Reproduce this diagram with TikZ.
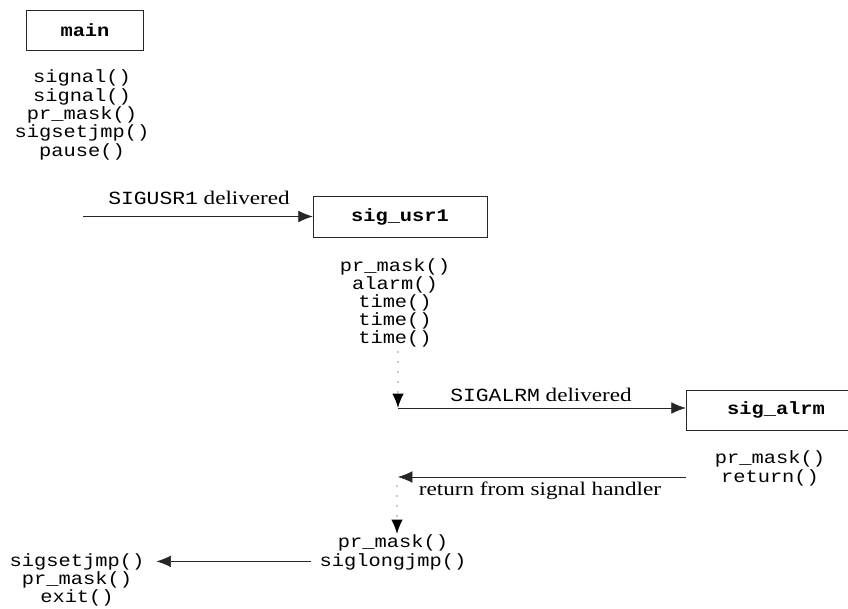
\documentclass[tikz,border=0pt]{standalone}
\usepackage{fontspec}
\setmainfont{Liberation Serif}
\newfontfamily\codefont[FakeStretch=1.15]{Liberation Mono}
\newfontfamily\labelfont[FakeStretch=1.2]{Liberation Serif}
\usetikzlibrary{arrows.meta}

\begin{document}
\begin{tikzpicture}
[x=0.025cm,y=-0.025cm,
  boxDecorate/.style={draw=black!85,thin,inner sep=0pt,
    font=\codefont\bfseries\fontsize{12.6}{13}\selectfont},
  callDecorate/.style={anchor=base,inner sep=0pt,text height=0.3cm,text depth=0.07cm,
    font=\codefont\fontsize{12.6}{13}\selectfont},
  textDecorate/.style={anchor=base,inner sep=0pt,
    font=\labelfont\fontsize{13.7}{15}\selectfont},
  lineDecorate/.style={-{Latex[length=3.6mm,width=2.9mm]},draw=black!85,thin},
  dotDecorate/.style={-{Latex[length=3.6mm,width=2.9mm,color=black]},
    draw=gray!85,line width=1.1pt,line cap=round,dash pattern=on 0pt off 2.5mm}]
\useasboundingbox (0,0) rectangle (848,609);
\clip (0,0) rectangle (848,609);
%% function boxes
\node (main) at (85,30) [boxDecorate,minimum width=2.925cm,minimum height=1cm] {main};
\node (usr1) at (400,216.5) [boxDecorate,minimum width=4.35cm,minimum height=1.02cm] {sig\_usr1};
\node (alrm) at (776,410) [boxDecorate,minimum width=4.5cm,minimum height=1cm] {sig\_alrm};
%% calls under each box
\foreach \nodename/\x/\y/\call in {
  m1/82/83/signal(), m2/82/101.3/signal(), m3/82/119.6/pr\_mask(),
  m4/82/137.9/sigsetjmp(), m5/82/156.2/pause(),
  u1/395/272/pr\_mask(), u2/395/290/alarm(), u3/395/308/time(),
  u4/395/326/time(), u5/395/344/time(),
  a1/770/463/pr\_mask(), a2/770/482/return(),
  j1/393/547/pr\_mask(), j2/393/566/siglongjmp(),
  s1/77/566/sigsetjmp(), s2/77/584/pr\_mask(), s3/77/602/exit()}
{
  \node (\nodename) at (\x,\y) [callDecorate] {\call};
}
%% signal texts
\node (usrMsg) at (199,205) [textDecorate] {{\codefont\fontsize{13.2}{15}\selectfont SIGUSR1} delivered};
\node (alrmMsg) at (541,402) [textDecorate] {{\codefont\fontsize{13.2}{15}\selectfont SIGALRM} delivered};
\node (retMsg) at (540,495) [textDecorate] {return from signal handler};
%% points on the flow
\coordinate (usrIn) at (83,216.5);
\coordinate (dotA) at (398,352);
\coordinate (alrmIn) at (398,408);
\coordinate (retIn) at (398,477);
\coordinate (dotB) at (397,486);
\coordinate (jmpIn) at (397,534);
%% arrows
\draw[lineDecorate] (usrIn) -- (usr1.west);
\draw[dotDecorate] (dotA) -- (alrmIn);
\draw[lineDecorate] (alrmIn) -- (alrmIn -| alrm.west);
\draw[lineDecorate] (alrm.west |- retIn) -- (retIn);
\draw[dotDecorate] (dotB) -- (jmpIn);
\draw[lineDecorate,shorten <=0.2cm,shorten >=0.3cm] (j2.west) -- (s1.east);
\end{tikzpicture}
\end{document}
